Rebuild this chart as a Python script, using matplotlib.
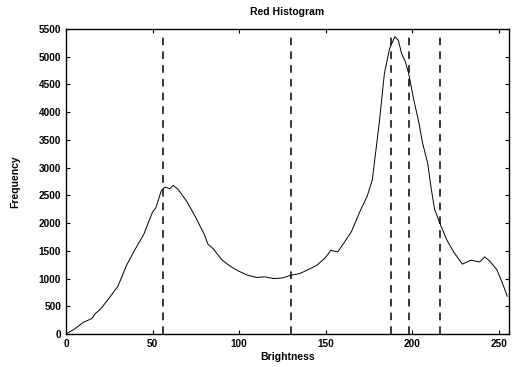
import matplotlib
matplotlib.use("Agg")
import matplotlib.pyplot as plt

brightness = [0, 5, 10, 15, 17, 20, 25, 30, 35, 40, 45, 50, 52, 55, 57, 60, 62, 65,
              70, 75, 80, 82, 85, 90, 95, 100, 105, 110, 115, 120, 125, 130, 135,
              140, 145, 150, 153, 157, 161, 165, 170, 174, 177, 181, 184, 187, 190,
              192, 194, 196, 198, 201, 204, 206, 209, 211, 213, 216, 220, 224, 229,
              234, 239, 242, 245, 249, 251, 253, 255]
frequency = [0, 90, 210, 280, 370, 450, 650, 860, 1240, 1530, 1800, 2200, 2280,
             2580, 2650, 2620, 2680, 2600, 2380, 2100, 1790, 1620, 1540, 1340, 1220,
             1130, 1060, 1020, 1030, 1000, 1010, 1060, 1090, 1160, 1240, 1380, 1510,
             1480, 1660, 1850, 2220, 2480, 2780, 3800, 4700, 5150, 5360, 5300, 5050,
             4920, 4700, 4220, 3800, 3450, 3080, 2630, 2250, 2000, 1700, 1480, 1260,
             1330, 1300, 1390, 1310, 1160, 1010, 850, 680]
thresholds = [56, 130, 188, 198, 216]

xticks = [0, 50, 100, 150, 200, 250]
yticks = list(range(0, 5501, 500))

fig = plt.figure(figsize=(5.17, 3.67), dpi=100)
ax = fig.add_axes([66/517, 33/367, (509-66)/517, (334-29)/367])

ax.plot(brightness, frequency, color="black", linewidth=0.7)
for t in thresholds:
    ax.plot([t, t], [0, 5450], color="black", linewidth=1.1, linestyle=(0, (5, 4)))

ax.set_xlim(0, 256)
ax.set_ylim(0, 5500)
ax.set_xticks(xticks)
ax.set_yticks(yticks)
ax.tick_params(direction="in", top=True, right=True, length=3, width=0.8,
               labelsize=7.2)
for lbl in ax.get_xticklabels() + ax.get_yticklabels():
    lbl.set_fontweight("bold")
    lbl.set_family("Liberation Sans")
for s in ax.spines.values():
    s.set_linewidth(1.0)

ax.set_title("Red Histogram", fontsize=7.5, fontweight="bold",
             family="Liberation Sans", pad=10)
ax.set_xlabel("Brightness", fontsize=7.5, fontweight="bold",
              family="Liberation Sans", labelpad=2)
ax.set_ylabel("Frequency", fontsize=7.5, fontweight="bold",
              family="Liberation Sans")
ax.yaxis.set_label_coords(-0.103, 0.5)

fig.savefig("out.png", dpi=100)
